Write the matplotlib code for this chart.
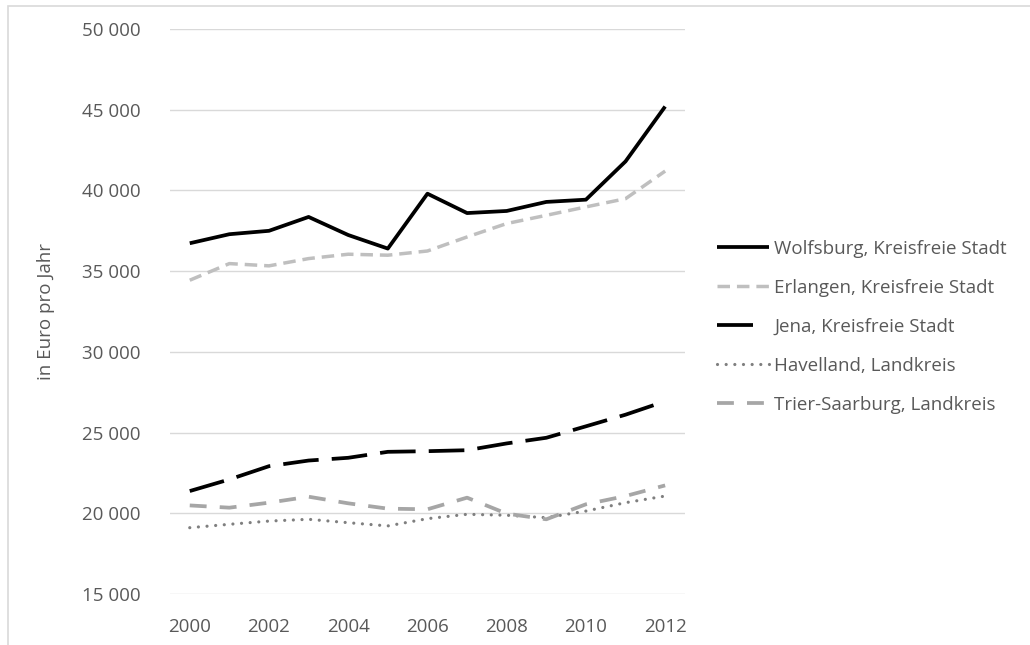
import matplotlib
matplotlib.use("Agg")
import matplotlib.pyplot as plt
from matplotlib.patches import Rectangle
from matplotlib.ticker import FuncFormatter

plt.rcParams['font.family'] = ['Open Sans', 'DejaVu Sans']

# Data
years = list(range(2000, 2013))
wolfsburg = [36730, 37290, 37500, 38360, 37240, 36400, 39800, 38600, 38730, 39290, 39430, 41800, 45200]
erlangen = [34440, 35470, 35330, 35780, 36050, 35990, 36250, 37120, 37950, 38460, 38980, 39490, 41200]
jena = [21380, 22100, 22920, 23270, 23440, 23810, 23850, 23910, 24330, 24680, 25390, 26110, 26940]
havelland = [19110, 19320, 19520, 19630, 19420, 19220, 19670, 19940, 19880, 19730, 20140, 20660, 21070]
trier = [20490, 20350, 20660, 21030, 20620, 20290, 20250, 20970, 19980, 19630, 20560, 21070, 21730]

labels = ["Wolfsburg, Kreisfreie Stadt", "Erlangen, Kreisfreie Stadt", "Jena, Kreisfreie Stadt",
          "Havelland, Landkreis", "Trier-Saarburg, Landkreis"]

text_color = '#595959'
grid_color = '#d9d9d9'

fig = plt.figure(figsize=(10.3, 6.45), dpi=100)
ax = fig.add_axes([0.165, 0.079, 0.5, 0.876])

ax.plot(years, wolfsburg, color='black', lw=2.7, solid_capstyle='butt', label=labels[0])
ax.plot(years, erlangen, color='#bfbfbf', lw=2.5, dashes=(3.6, 2.0), dash_capstyle='butt', label=labels[1])
ax.plot(years, jena, color='black', lw=2.7, dashes=(9.5, 3.5), dash_capstyle='butt', label=labels[2])
ax.plot(years, havelland, color='#7f7f7f', lw=2.3, dashes=(0.01, 2.7), dash_capstyle='round', label=labels[3])
ax.plot(years, trier, color='#a6a6a6', lw=2.7, dashes=(4.5, 3.5), dash_capstyle='butt', label=labels[4])

ax.set_xlim(1999.5, 2012.5)
ax.set_ylim(15000, 50000)
ax.set_xticks(range(2000, 2013, 2))
ax.set_yticks(range(15000, 50001, 5000))
ax.yaxis.set_major_formatter(FuncFormatter(lambda v, p: f"{int(v):,}".replace(",", " ")))

ax.grid(axis='y', color=grid_color, lw=1)
ax.set_axisbelow(True)
for s in ax.spines.values():
    s.set_visible(False)
ax.tick_params(axis='both', length=0, labelsize=13.5, colors=text_color)
ax.tick_params(axis='y', pad=21)
ax.tick_params(axis='x', pad=17)

fig.text(46 / 1030, 1 - 312 / 645, "in Euro pro Jahr", rotation=90, ha='center', va='center',
         fontsize=13.5, color=text_color)

leg = ax.legend(loc='upper left', bbox_to_anchor=(717 / 1030, 1 - 240 / 645),
                bbox_transform=fig.transFigure, frameon=False, fontsize=13.5,
                handlelength=2.75, handletextpad=0.3, labelspacing=1.12,
                borderpad=0, borderaxespad=0)
for t in leg.get_texts():
    t.set_color(text_color)
# Jena legend key shows one long dash only
leg.get_lines()[2].set_dashes((9.6, 10))

# light frame around the chart area
fig.add_artist(Rectangle((7.5 / 1030, -0.1), 2, 1.1 - 5.5 / 645, transform=fig.transFigure,
                         fill=False, ec=grid_color, lw=1.2))

fig.savefig("out.png", dpi=100)
